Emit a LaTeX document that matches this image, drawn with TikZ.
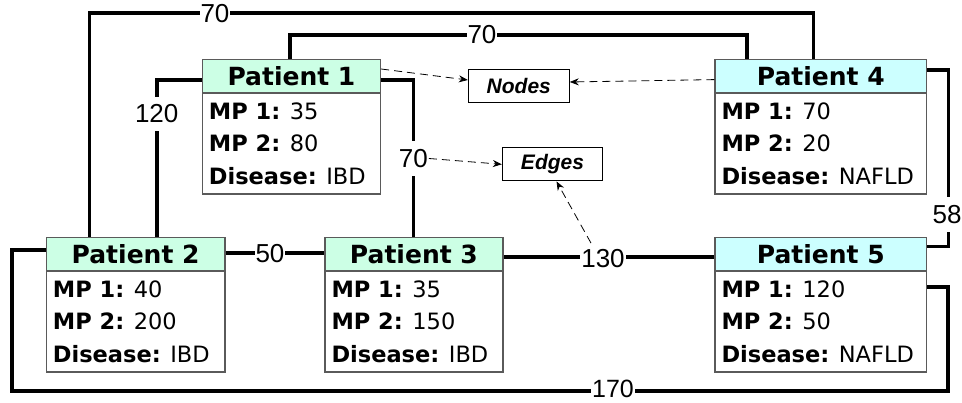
\documentclass[tikz,border=0pt]{standalone}
\usepackage{fontspec}
\setmainfont{DejaVu Sans}
\newfontfamily\labfont{Liberation Sans}
\usetikzlibrary{calc,arrows.meta}
\definecolor{hdrgreen}{HTML}{CCFFE5}
\definecolor{hdrcyan}{HTML}{CCFFFF}
\definecolor{boxgray}{HTML}{5A5A5A}
\tikzset{
  edge/.style={line width=3.6pt, line join=miter},
  hdr/.style={draw=boxgray, line width=1.2pt, minimum height=33pt, inner sep=0pt,
    font=\fontsize{25}{30}\selectfont\bfseries},
  bodybox/.style={draw=boxgray, line width=1.2pt, fill=white, minimum height=100.5pt, inner sep=0pt},
  btext/.style={inner sep=0pt, anchor=base west, font=\fontsize{22.5}{27}\selectfont},
  lbl/.style={fill=white, inner xsep=1pt, inner ysep=1pt, font=\labfont\fontsize{26}{30}\selectfont},
  vlbl/.style={lbl, inner ysep=8pt},
  tag/.style={draw=black, line width=0.9pt, fill=white, inner sep=0pt,
    font=\labfont\fontsize{21}{25}\selectfont\bfseries\itshape},
  darr/.style={line width=0.8pt, dash pattern=on 8pt off 5pt, -{Stealth[length=9pt,width=7pt]}}
}
\newcommand{\patbox}[9]{%
  \node[hdr, fill=#5, minimum width=#4pt, anchor=north west] (#1) at (#2,#3) {Patient #6};
  \node[bodybox, minimum width=#4pt, anchor=north west] (#1b) at (#1.south west) {};
  \node[btext] (#1x) at ($(#1b.north west)+(7,26.6)$) {\textbf{MP 1:} #7};
  \node[btext] (#1y) at ($(#1b.north west)+(7,59)$) {\textbf{MP 2:} #8};
  \node[btext] (#1z) at ($(#1b.north west)+(7,91.6)$) {\textbf{Disease:} #9};
}
\begin{document}
\begin{tikzpicture}[x=1pt,y=-1pt]
\useasboundingbox (0,0) rectangle (962,403);
\clip (0,0) rectangle (962,403);
\fill[white] (0,0) rectangle (962,403);

% patient boxes
\patbox{p1}{201.7}{58.7}{178.3}{hdrgreen}{1}{35}{80}{IBD}
\patbox{p2}{45.7}{236.7}{178.6}{hdrgreen}{2}{40}{200}{IBD}
\patbox{p3}{324.3}{236.7}{178}{hdrgreen}{3}{35}{150}{IBD}
\patbox{p4}{714.3}{58.7}{211.7}{hdrcyan}{4}{70}{20}{NAFLD}
\patbox{p5}{714.3}{236.7}{211.7}{hdrcyan}{5}{120}{50}{NAFLD}

% legend boxes
\node[tag, minimum width=101pt, minimum height=33.4pt] (nodes) at (518.8,86) {Nodes};
\node[tag, minimum width=100.4pt, minimum height=33.3pt] (edges) at (552.5,164.3) {Edges};

% bend points
\coordinate (a1) at (89.3,13.3);  \coordinate (a2) at (813.3,13.3);
\coordinate (b1) at (290,35);     \coordinate (b2) at (746.7,35);
\coordinate (c1) at (156.7,80);
\coordinate (d1) at (413.3,80);
\coordinate (e1) at (270,253.3);
\coordinate (f1) at (603,257);
\coordinate (g1) at (948.3,70);   \coordinate (g2) at (948.3,246.7);
\coordinate (h1) at (11.7,250);   \coordinate (h2) at (11.7,391);
\coordinate (h3) at (947.7,391); \coordinate (h4) at (947.7,287.3);

% edges
\draw[edge] (a1 |- p2.north) -- (a1) -- (a2) -- (a2 |- p4.north);
\draw[edge] (b1 |- p1.north) -- (b1) -- (b2) -- (b2 |- p4.north);
\draw[edge] (p1.west |- c1) -- (c1) -- (c1 |- p2.north);
\draw[edge] (p1.east |- d1) -- (d1) -- (d1 |- p3.north);
\draw[edge] (p2.east |- e1) -- (p3.west |- e1);
\draw[edge] (p3.east |- f1) -- (p5.west |- f1);
\draw[edge] (p4.east |- g1) -- (g1) -- (g2) -- (p5.east |- g2);
\draw[edge] (p2.west |- h1) -- (h1) -- (h2) -- (h3) -- (h4) -- (p5b.east |- h4);

% edge labels
\node[lbl] (la) at (215,13.3) {70};
\node[lbl] (lb) at (482,35) {70};
\node[vlbl] (lc) at (156.7,114) {120};
\node[vlbl] (ld) at (413.3,158.5) {70};
\node[lbl] (le) at (e1) {50};
\node[lbl] (lf) at (603,258.5) {130};
\node[vlbl] (lg) at (947,214.5) {58};
\node[lbl, font=\labfont\fontsize{25}{28}\selectfont] (lh) at (613,389) {170};

% dashed pointers
\draw[darr] ($(p1.north east)+(0,10.3)$) -- ($(nodes.west)+(0,-6)$);
\draw[darr] ($(p4.west)+(0,3.8)$) -- ($(nodes.east)+(0,-4)$);
\draw[darr] (ld.east) -- (edges.west);
\draw[darr] ($(lf.north)+(-12,-5)$) -- ($(edges.south)+(4,0)$);
\end{tikzpicture}
\end{document}
